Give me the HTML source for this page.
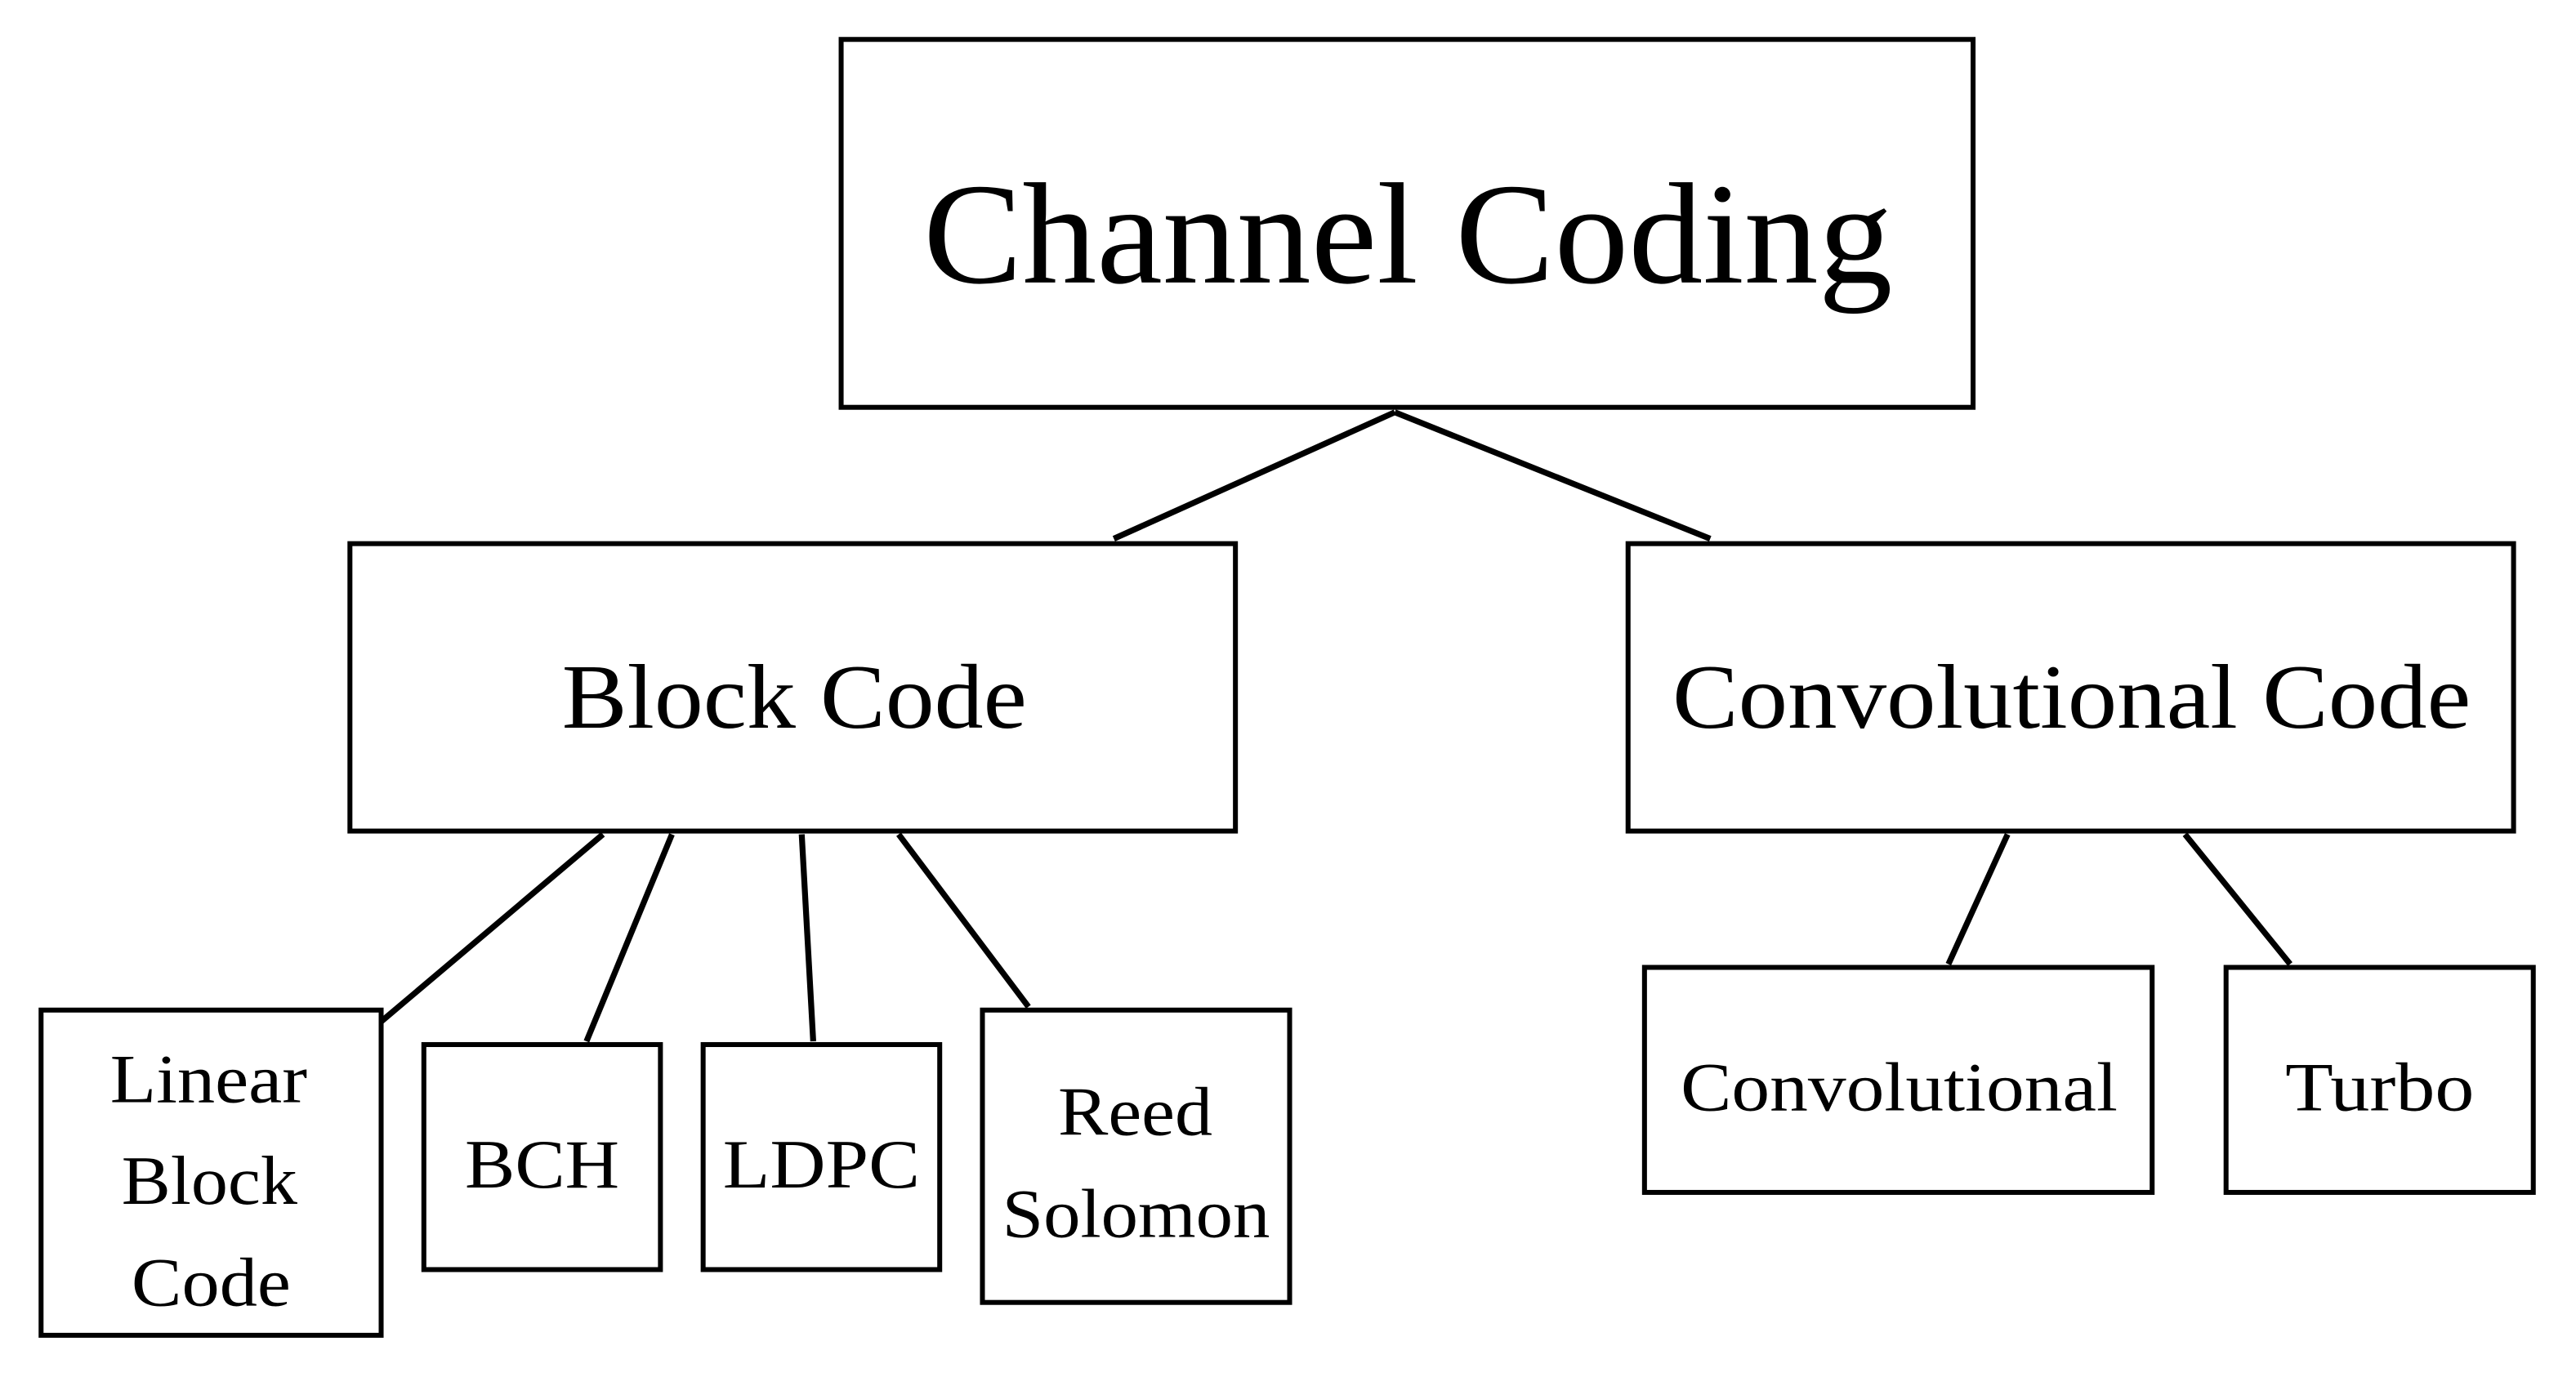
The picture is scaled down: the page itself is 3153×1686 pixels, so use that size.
<!DOCTYPE html>
<html><head><style>html,body{margin:0;padding:0;background:#fff;}svg{display:block}</style></head>
<body>
<svg width="3153" height="1686" viewBox="0 0 1568 838.4" preserveAspectRatio="none" xmlns="http://www.w3.org/2000/svg">
<g fill="none" stroke="#000" stroke-width="3">
<rect x="512" y="24" width="689" height="224"/>
<rect x="213" y="331" width="539" height="175"/>
<rect x="991" y="331" width="539" height="175"/>
<rect x="25" y="615" width="207" height="198"/>
<rect x="258" y="636" width="144" height="137"/>
<rect x="428" y="636" width="144" height="137"/>
<rect x="598" y="615" width="187" height="178"/>
<rect x="1001" y="589" width="309" height="137"/>
<rect x="1355" y="589" width="187" height="137"/>
</g>
<path fill="none" stroke="#000" stroke-width="3.6" d="M849 251 L678 328 M849 251 L1041 328 M367 508 L232 622 M409 508 L357 634 M488 508 L495 634 M547 508 L626 613 M1222 508 L1186 587 M1330 508 L1394 587"/>
<g font-family="Liberation Serif, serif" fill="#000">
<text x="562" y="172" font-size="88" textLength="590" lengthAdjust="spacingAndGlyphs">Channel Coding</text>
<text x="342" y="443" font-size="56" textLength="283" lengthAdjust="spacingAndGlyphs">Block Code</text>
<text x="1018" y="443" font-size="56" textLength="486" lengthAdjust="spacingAndGlyphs">Convolutional Code</text>
<text x="67" y="671" font-size="42" textLength="120" lengthAdjust="spacingAndGlyphs">Linear</text>
<text x="74" y="733" font-size="42" textLength="107" lengthAdjust="spacingAndGlyphs">Block</text>
<text x="80" y="795" font-size="42" textLength="97" lengthAdjust="spacingAndGlyphs">Code</text>
<text x="283" y="723" font-size="42" textLength="94" lengthAdjust="spacingAndGlyphs">BCH</text>
<text x="440" y="723" font-size="42" textLength="120" lengthAdjust="spacingAndGlyphs">LDPC</text>
<text x="644" y="691" font-size="42" textLength="94" lengthAdjust="spacingAndGlyphs">Reed</text>
<text x="610" y="753" font-size="42" textLength="163" lengthAdjust="spacingAndGlyphs">Solomon</text>
<text x="1023" y="676" font-size="42" textLength="266" lengthAdjust="spacingAndGlyphs">Convolutional</text>
<text x="1391" y="676" font-size="42" textLength="115" lengthAdjust="spacingAndGlyphs">Turbo</text>
</g>
</svg>
</body></html>
